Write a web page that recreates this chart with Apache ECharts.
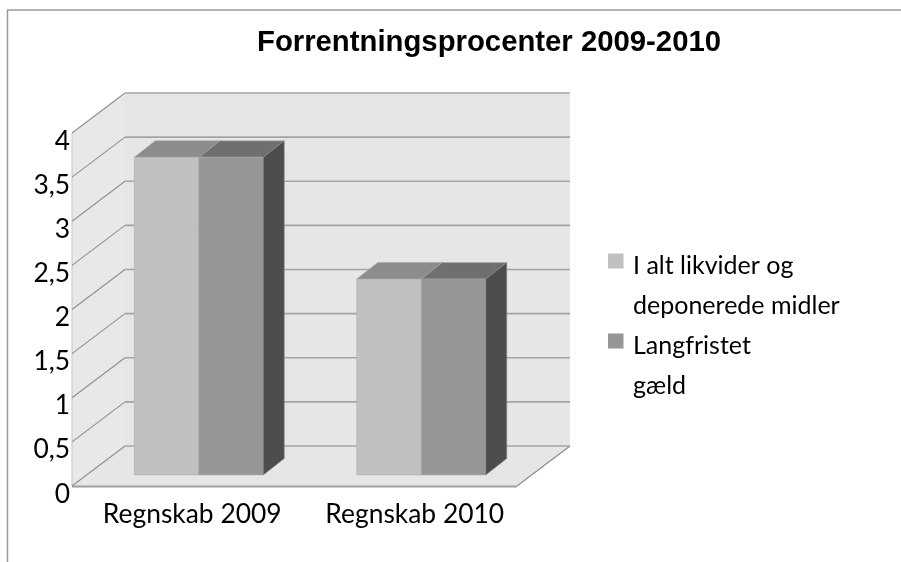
<!DOCTYPE html>
<html><head><meta charset="utf-8">
<style>html,body{margin:0;padding:0;background:#fff}#c{width:901px;height:562px}</style>
<script src="https://cdn.jsdelivr.net/npm/echarts@6/dist/echarts.min.js"></script>
</head><body><div id="c"></div>
<script>
var titleText = 'Forrentningsprocenter 2009-2010';
var categories = ['Regnskab 2009', 'Regnskab 2010'];
var series1Name = 'I alt likvider og\ndeponerede midler';
var series2Name = 'Langfristet\ngæld';
var series1Values = [3.6, 2.22];
var series2Values = [3.6, 2.22];
var yTicks = [0, 0.5, 1, 1.5, 2, 2.5, 3, 3.5, 4];

var WALL_DX = 53, WALL_DY = -40;
var BAR_DY = -11, BAR_DEPTH_X = 21, BAR_DEPTH_Y = -16.5;
var BAR_W = 64.5, BAR_SHIFT = 15.5;
var GRID = '#a4a4a4', WALL = '#e6e6e6';
var LEGEND_ICON = 'path://M0,0L0,0Z M20,0L20,0Z M0,7.5H15.5V22.5H0Z M0,80L0,80Z';

function wallsRender(params, api) {
  var cs = params.coordSys;
  var l = cs.x, r = cs.x + cs.width, t = cs.y, b = cs.y + cs.height;
  var style = { fill: WALL, stroke: null };
  return { type: 'group', children: [
    { type: 'polygon', shape: { points: [[l, t], [l + WALL_DX, t + WALL_DY], [l + WALL_DX, b + WALL_DY], [l, b]] }, style: { fill: '#e8e8e8' } },
    { type: 'polygon', shape: { points: [[l + WALL_DX, t + WALL_DY], [r + WALL_DX, t + WALL_DY], [r + WALL_DX, b + WALL_DY], [l + WALL_DX, b + WALL_DY]] }, style: style },
    { type: 'polygon', shape: { points: [[l, b], [l + WALL_DX, b + WALL_DY], [r + WALL_DX, b + WALL_DY], [r, b]] }, style: style },
    { type: 'line', shape: { x1: l, y1: t, x2: l, y2: b }, style: { stroke: '#c4c4c4', lineWidth: 1 } },
    { type: 'line', shape: { x1: l, y1: b + 0.5, x2: r, y2: b + 0.5 }, style: { stroke: '#a0a0a0', lineWidth: 2 } },
    { type: 'line', shape: { x1: r, y1: b, x2: r + WALL_DX, y2: b + WALL_DY }, style: { stroke: '#8c8c8c', lineWidth: 1.2 } }
  ] };
}
function gridRender(params, api) {
  var cs = params.coordSys;
  var l = cs.x, r = cs.x + cs.width;
  var y = api.coord([0, api.value(0)])[1];
  return { type: 'group', children: [
    { type: 'line', shape: { x1: l, y1: y, x2: l + WALL_DX, y2: y + WALL_DY }, style: { stroke: '#8f8f8f', lineWidth: 1.1 } },
    { type: 'line', shape: { x1: l + WALL_DX, y1: y + WALL_DY, x2: r + WALL_DX, y2: y + WALL_DY }, style: { stroke: GRID, lineWidth: 1.6 } }
  ] };
}
function barRender(seriesIndex, front, top, side) {
  return function (params, api) {
    var cx = api.coord([api.value(0), 0])[0] + BAR_SHIFT;
    var y0 = api.coord([0, 0])[1];
    var yv = api.coord([0, api.value(1)])[1];
    var x1 = cx + (seriesIndex === 0 ? -BAR_W : 0), x2 = x1 + BAR_W;
    var bt = yv + BAR_DY, bb = y0 + BAR_DY;
    var ch = [
      { type: 'polygon', shape: { points: [[x1, bt], [x1 + BAR_DEPTH_X, bt + BAR_DEPTH_Y], [x2 + BAR_DEPTH_X, bt + BAR_DEPTH_Y], [x2, bt]] }, style: { fill: top, stroke: '#a8a8a8', lineWidth: 0.6 } },
      { type: 'rect', shape: { x: x1, y: bt, width: BAR_W, height: bb - bt }, style: { fill: front, stroke: '#a8a8a8', lineWidth: 0.5 } }
    ];
    if (seriesIndex === 1) {
      ch.push({ type: 'polygon', shape: { points: [[x2, bt], [x2 + BAR_DEPTH_X, bt + BAR_DEPTH_Y], [x2 + BAR_DEPTH_X, bb + BAR_DEPTH_Y], [x2, bb]] }, style: { fill: side, stroke: '#8c8c8c', lineWidth: 0.6 } });
    }
    return { type: 'group', children: ch };
  };
}
function pairs(vals) { return vals.map(function (v, i) { return [i, v]; }); }

var chart = echarts.init(document.getElementById('c'), null, { renderer: 'canvas' });
chart.setOption({
  animation: false,
  backgroundColor: '#fff',
  title: { text: titleText, left: 484, top: 23, textAlign: 'center',
    textStyle: { fontFamily: 'Liberation Sans', fontWeight: 'bold', fontSize: 29.3, color: '#000' } },
  legend: {
    left: 603, top: 241, orient: 'vertical', itemGap: 0, itemWidth: 20, itemHeight: 80,
    selectedMode: false, icon: LEGEND_ICON,
    data: [series1Name, series2Name],
    textStyle: { fontFamily: 'Lato', fontSize: 25, lineHeight: 40, color: '#000' }
  },
  graphic: [
    { type: 'line', silent: true, shape: { x1: 7.5, y1: 10, x2: 7.5, y2: 562 }, style: { stroke: '#999', lineWidth: 1.5 } },
    { type: 'line', silent: true, shape: { x1: 7, y1: 10, x2: 901, y2: 10 }, style: { stroke: '#999', lineWidth: 1.5 } }
  ],
  grid: { left: 72, top: 133, width: 445, height: 353, containLabel: false },
  xAxis: { type: 'category', data: categories,
    axisLine: { show: false }, axisTick: { show: false }, splitLine: { show: false },
    axisLabel: { interval: 0, margin: 15, padding: [0, 0, 0, 18], color: '#000', fontFamily: 'Lato', fontSize: 26.4 } },
  yAxis: { type: 'value', min: 0, max: 4, interval: 0.5,
    axisLine: { show: false }, axisTick: { show: false }, splitLine: { show: false },
    axisLabel: { margin: 2, verticalAlign: 'top', lineHeight: 16, color: '#000', fontFamily: 'Lato', fontSize: 26.4,
      formatter: function (v) { return String(v).replace('.', ','); } } },
  series: [
    { name: 'walls', type: 'custom', renderItem: wallsRender, data: [[0, 0]], silent: true, clip: false, z: 1, encode: { x: 0, y: 1 } },
    { name: 'grid', type: 'custom', renderItem: gridRender, data: yTicks.map(function (v) { return [v]; }), silent: true, clip: false, z: 2, encode: { y: 0 } },
    { name: series1Name, type: 'custom', renderItem: barRender(0, '#c0c0c0', '#8c8c8c', '#4d4d4d'), data: pairs(series1Values), itemStyle: { color: '#c0c0c0' }, clip: false, z: 3, encode: { x: 0, y: 1 } },
    { name: series2Name, type: 'custom', renderItem: barRender(1, '#969696', '#6f6f6f', '#4d4d4d'), data: pairs(series2Values), itemStyle: { color: '#969696' }, clip: false, z: 4, encode: { x: 0, y: 1 } }
  ]
});
</script></body></html>
